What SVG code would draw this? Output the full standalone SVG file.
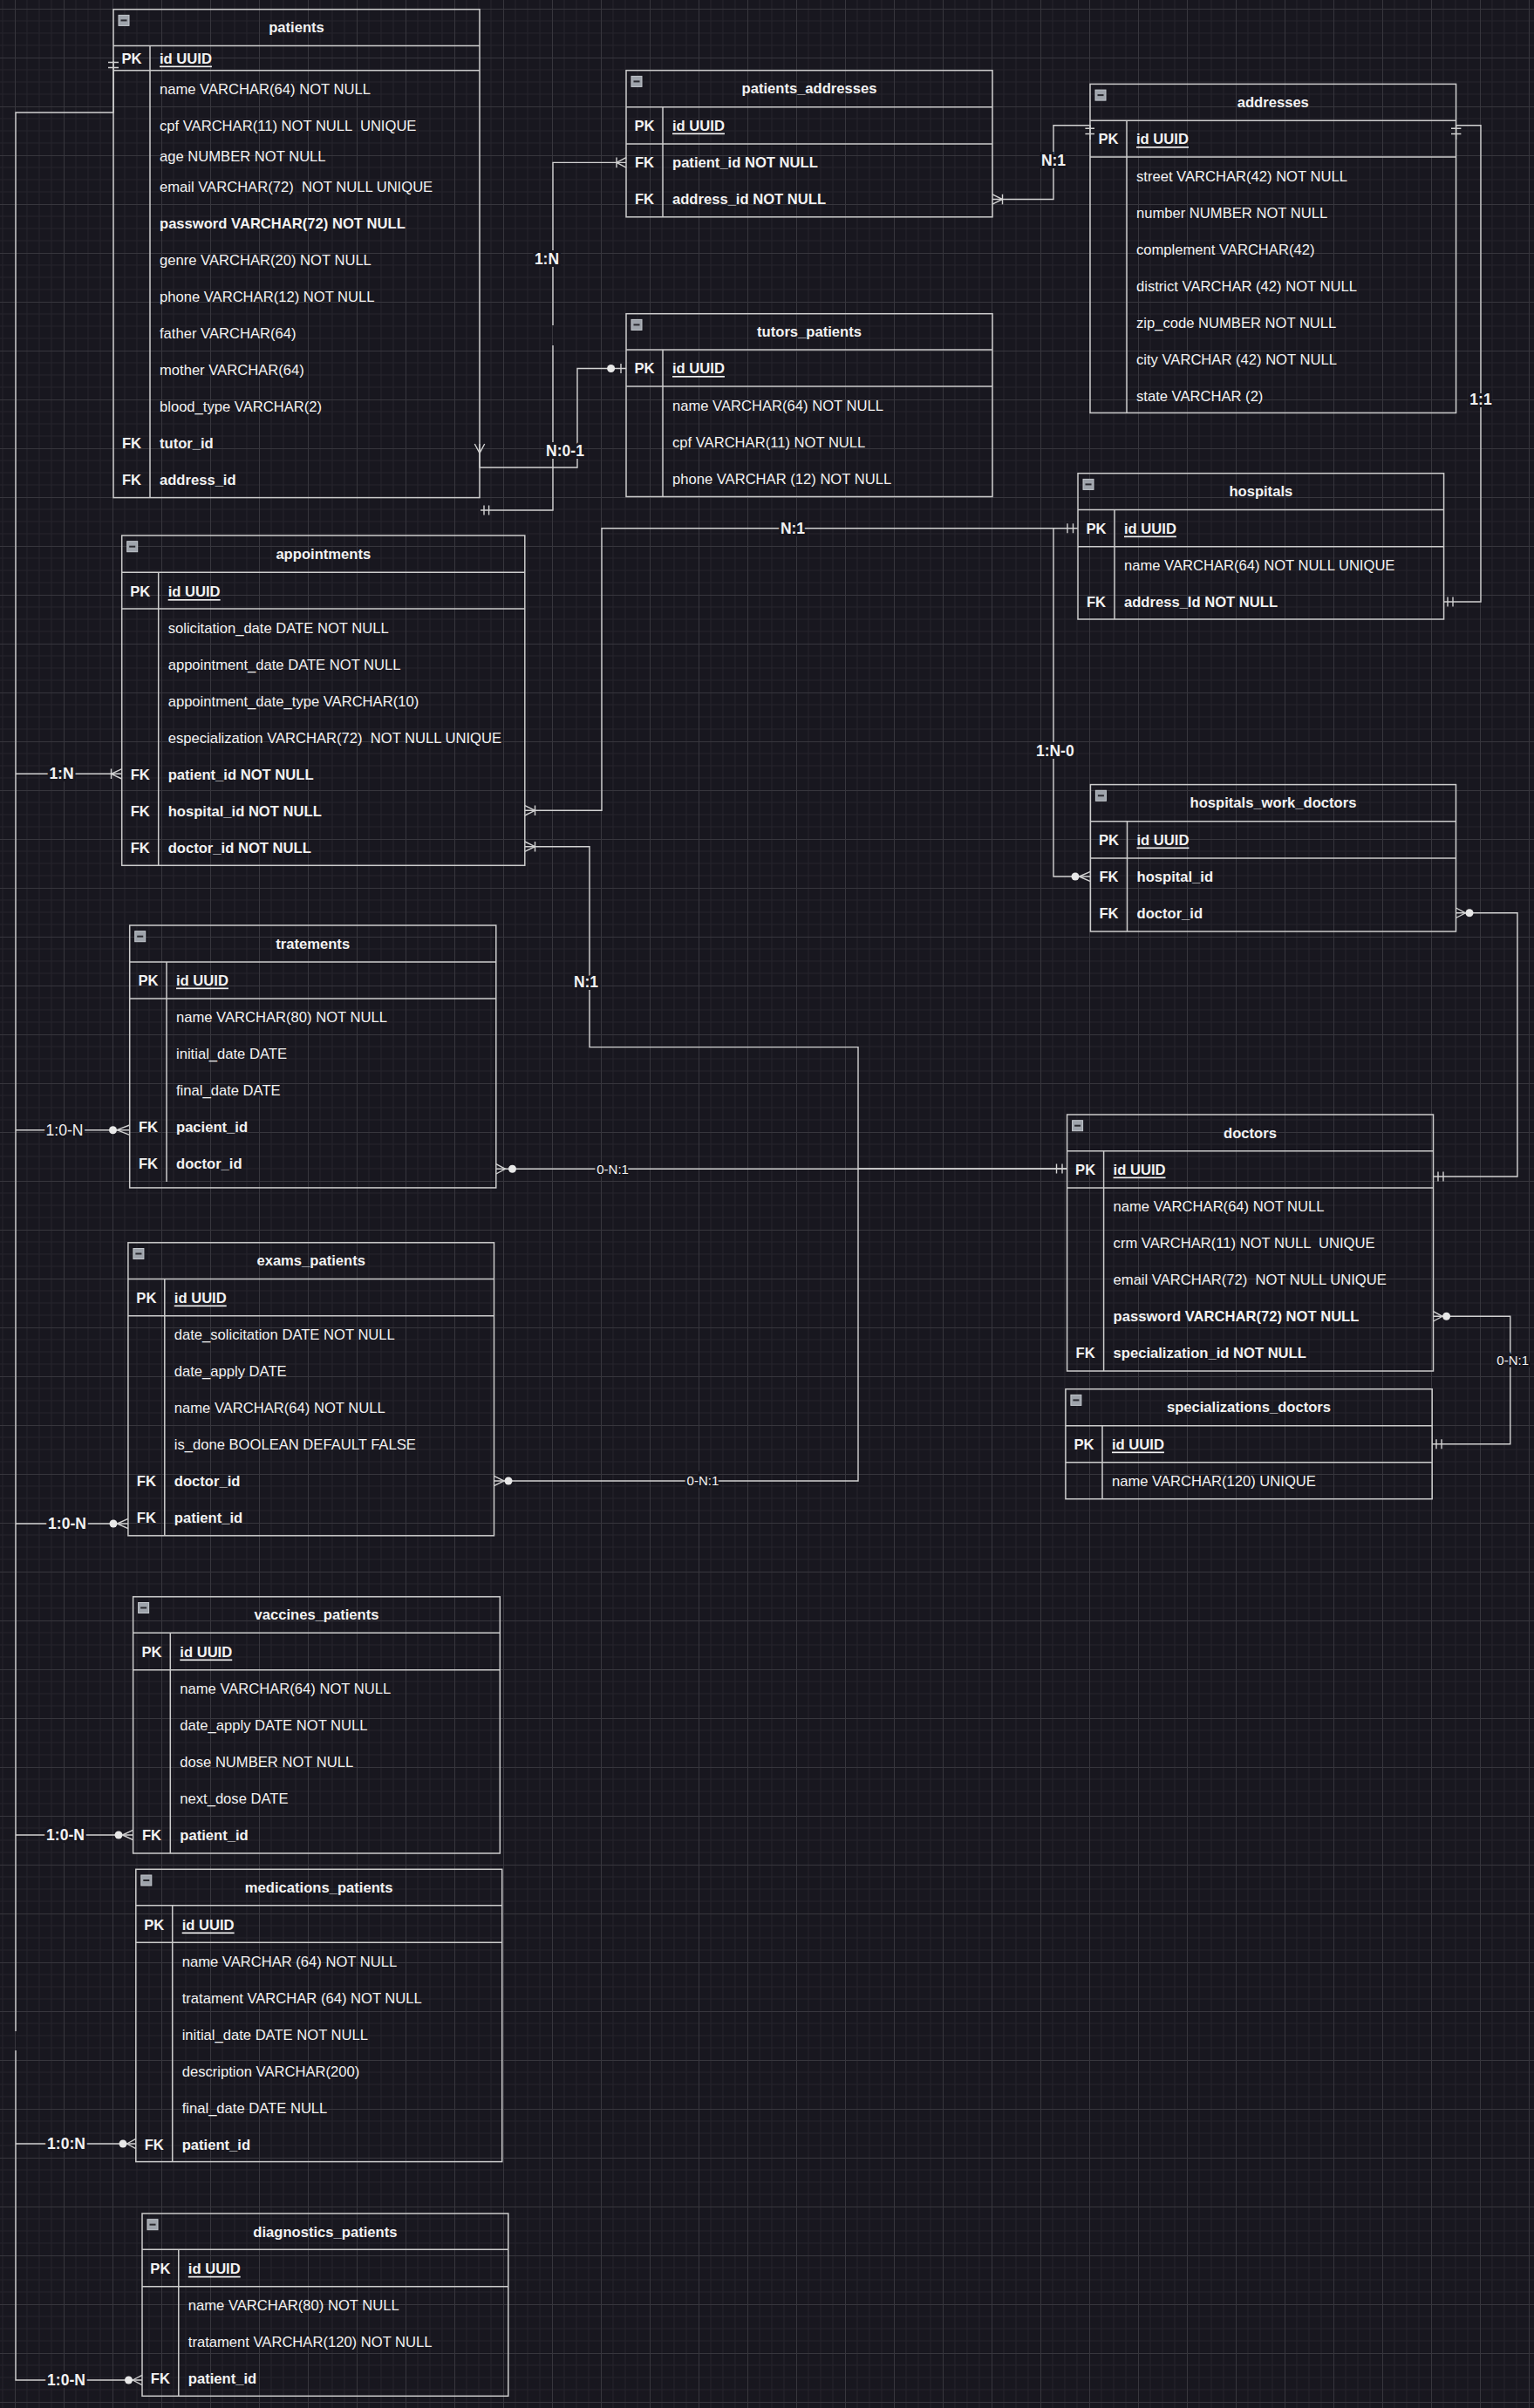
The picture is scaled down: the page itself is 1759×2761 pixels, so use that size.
<svg xmlns="http://www.w3.org/2000/svg" width="1759" height="2761" viewBox="0 0 1759 2761">
<style>
.t{font-family:"Liberation Sans",Arial,sans-serif;font-size:16.6px;fill:#f2f2f2;dominant-baseline:central;white-space:pre}
.b{font-weight:bold}
.u{text-decoration:underline}
.c{text-anchor:middle}
.box{fill:none;stroke:#cccccc;stroke-width:1.5}
.ln{stroke:#cccccc;stroke-width:1.5}
.ico{fill:#9ea3ab;stroke:#c4c8ce;stroke-width:1}
.icm{fill:#2a2a30}
.e{fill:none;stroke:#d2d2d2;stroke-width:1.4}
.dot{fill:#e8e8e8}
.lb{font-family:"Liberation Sans",Arial,sans-serif;font-size:17.5px;font-weight:bold;fill:#f2f2f2;text-anchor:middle;dominant-baseline:central;paint-order:stroke;stroke:#18171f;stroke-width:6px}
.lr{font-weight:normal}
.ls{font-family:"Liberation Sans",Arial,sans-serif;font-size:15px;fill:#f2f2f2;text-anchor:middle;dominant-baseline:central;paint-order:stroke;stroke:#18171f;stroke-width:5px}
</style>
<defs>
<pattern id="grid" x="17" y="10" width="56" height="56" patternUnits="userSpaceOnUse">
<path d="M14,0V56M28,0V56M42,0V56M0,14H56M0,28H56M0,42H56" stroke="#25242c" stroke-width="1" fill="none"/>
<path d="M0.5,0V56M0,0.5H56" stroke="#37363d" stroke-width="1" fill="none"/>
</pattern>
</defs>
<rect width="1759" height="2761" fill="#18171f"/>
<rect width="1759" height="2761" fill="url(#grid)"/>

<g id="connectors">
<!-- patient bus -->
<path class="e" d="M130,70V129H18V2329M18,2351V2729H163"/>
<path class="e" d="M18,887.3H139.7M18,1295.7H148.7M18,1747H146.9M18,2104H152.6M18,2458H155.8"/>
<path class="e" d="M124,71.5H136M124,77.5H136"/>
<path class="e" d="M127.5,881.6V893M127.5,887.3L139.7,881.6M127.5,887.3L139.7,893"/>
<circle class="dot" cx="129.5" cy="1295.7" r="4.5"/>
<path class="e" d="M134,1295.7L148.7,1290M134,1295.7L148.7,1301.4"/>
<circle class="dot" cx="130" cy="1747" r="4.5"/>
<path class="e" d="M134.5,1747L146.9,1741.3M134.5,1747L146.9,1752.7"/>
<circle class="dot" cx="136" cy="2104" r="4.5"/>
<path class="e" d="M140.5,2104L152.6,2098.3M140.5,2104L152.6,2109.7"/>
<circle class="dot" cx="141" cy="2458" r="4.5"/>
<path class="e" d="M145.5,2458L155.8,2452.3M145.5,2458L155.8,2463.7"/>
<circle class="dot" cx="147.5" cy="2729" r="4.5"/>
<path class="e" d="M152,2729L163,2723.3M152,2729L163,2734.7"/>
<text class="lb" x="70.5" y="887.3">1:N</text>
<text class="lb lr" x="74" y="1295.7">1:0-N</text>
<text class="lb" x="77" y="1747">1:0-N</text>
<text class="lb" x="75" y="2104">1:0-N</text>
<text class="lb" x="76" y="2458">1:0:N</text>
<text class="lb" x="76" y="2729">1:0-N</text>

<!-- patients -> patients_addresses -->
<path class="e" d="M551,585H634V396M634,373V186.4H718"/>
<path class="e" d="M555,579.5V590.5M560.6,579.5V590.5"/>
<path class="e" d="M707,180.5V192.3M707,186.4L718,180.7M707,186.4L718,192.1"/>
<text class="lb" x="627" y="297">1:N</text>

<!-- patients.tutor_id -> tutors_patients -->
<path class="e" d="M550,509V536H662V422.5H718"/>
<path class="e" d="M544.3,509L550,519.5L555.7,509"/>
<circle class="dot" cx="700.6" cy="422.5" r="4.5"/>
<path class="e" d="M712,417V428"/>
<text class="lb" x="648" y="516.6">N:0-1</text>

<!-- patients_addresses -> addresses -->
<path class="e" d="M1138,228.5H1208V143.7H1250V160"/>
<path class="e" d="M1138,222.8L1149.5,228.5L1138,234.2M1149.5,222.8V234.2"/>
<path class="e" d="M1244.4,147.3H1255M1244.4,153.5H1255"/>
<text class="lb" x="1208" y="184">N:1</text>

<!-- addresses -> hospitals -->
<path class="e" d="M1669.6,160V143.7H1698V690H1655.6"/>
<path class="e" d="M1664,147.3H1675.4M1664,153.5H1675.4"/>
<path class="e" d="M1660,684.5V695.5M1666,684.5V695.5"/>
<text class="lb" x="1698" y="458">1:1</text>

<!-- appointments.hospital_id -> hospitals -->
<path class="e" d="M601.8,929.3H690V605.7H1236"/>
<path class="e" d="M601.8,923.6L613.5,929.3L601.8,935M613.5,923.6V935"/>
<path class="e" d="M1224,600.2V611.2M1230.5,600.2V611.2"/>
<text class="lb" x="909" y="605.7">N:1</text>

<!-- hospitals -> hospitals_work_doctors -->
<path class="e" d="M1208,605.7V1005H1250.4"/>
<circle class="dot" cx="1233" cy="1005" r="4.5"/>
<path class="e" d="M1237.5,1005L1250.4,999.3M1237.5,1005L1250.4,1010.7"/>
<text class="lb" x="1209.8" y="861">1:N-0</text>

<!-- hospitals_work_doctors.doctor_id -> doctors -->
<path class="e" d="M1669.5,1046.8H1740V1349H1643.5"/>
<path class="e" d="M1669.5,1041L1680.5,1046.8L1669.5,1052.5"/>
<circle class="dot" cx="1685" cy="1046.8" r="4.5"/>
<path class="e" d="M1649,1343.5V1354.5M1655,1343.5V1354.5"/>

<!-- appointments.doctor_id -> doctors -->
<path class="e" d="M601.8,970.7H676V1200.6H984V1340H1223.6"/>
<path class="e" d="M601.8,965L613.5,970.7L601.8,976.4M613.5,965V976.4"/>
<path class="e" d="M1211.5,1334.5V1345.5M1218,1334.5V1345.5"/>
<text class="lb" x="672" y="1125.5">N:1</text>

<!-- tratements.doctor_id -> doctors -->
<path class="e" d="M568.8,1340.3H1223.6"/>
<path class="e" d="M568.8,1334.6L579.5,1340.3L568.8,1346"/>
<circle class="dot" cx="587.5" cy="1340.3" r="4.5"/>
<text class="ls" x="702.6" y="1340">0-N:1</text>

<!-- exams_patients.doctor_id -> doctors -->
<path class="e" d="M566.5,1698H984V1341"/>
<path class="e" d="M566.5,1692.3L578,1698L566.5,1703.7"/>
<circle class="dot" cx="583" cy="1698" r="4.5"/>
<text class="ls" x="805.9" y="1697">0-N:1</text>

<!-- doctors -> specializations_doctors -->
<path class="e" d="M1643.5,1509.3H1731.8V1655.7H1642.2"/>
<path class="e" d="M1643.5,1503.6L1654,1509.3L1643.5,1515"/>
<circle class="dot" cx="1658.6" cy="1509.3" r="4.5"/>
<path class="e" d="M1647,1650.2V1661.2M1653,1650.2V1661.2"/>
<text class="ls" x="1734.7" y="1559.3">0-N:1</text>
</g>

<g id="patients">
<rect class="box" x="130" y="10.7" width="420" height="559.9"/>
<path class="ln" d="M130,52.4H550M130,80.7H550M172,52.4V570.6"/>
<rect class="ico" x="136" y="17.4" width="12" height="12"/><rect class="icm" x="138.5" y="22.4" width="7" height="2"/>
<text class="t b c" x="340" y="31.5">patients</text>
<text class="t b c" x="151" y="67">PK</text>
<text class="t b u" x="183" y="67">id UUID</text>
<text class="t" x="183" y="102">name VARCHAR(64) NOT NULL</text>
<text class="t" x="183" y="144" xml:space="preserve">cpf VARCHAR(11) NOT NULL  UNIQUE</text>
<text class="t" x="183" y="179">age NUMBER NOT NULL</text>
<text class="t" x="183" y="214" xml:space="preserve">email VARCHAR(72)  NOT NULL UNIQUE</text>
<text class="t b" x="183" y="256">password VARCHAR(72) NOT NULL</text>
<text class="t" x="183" y="298">genre VARCHAR(20) NOT NULL</text>
<text class="t" x="183" y="340">phone VARCHAR(12) NOT NULL</text>
<text class="t" x="183" y="382">father VARCHAR(64)</text>
<text class="t" x="183" y="424">mother VARCHAR(64)</text>
<text class="t" x="183" y="466.5">blood_type VARCHAR(2)</text>
<text class="t b c" x="151" y="508">FK</text>
<text class="t b" x="183" y="508">tutor_id</text>
<text class="t b c" x="151" y="550">FK</text>
<text class="t b" x="183" y="550">address_id</text>
</g>

<g id="patients_addresses">
<rect class="box" x="718" y="80.7" width="420" height="168.1"/>
<path class="ln" d="M718,122.8H1138M718,165H1138M760,122.8V248.8"/>
<rect class="ico" x="724" y="87.4" width="12" height="12"/><rect class="icm" x="726.5" y="92.4" width="7" height="2"/>
<text class="t b c" x="928" y="101.7">patients_addresses</text>
<text class="t b c" x="739" y="144">PK</text>
<text class="t b u" x="771" y="144">id UUID</text>
<text class="t b c" x="739" y="186.4">FK</text>
<text class="t b" x="771" y="186.4">patient_id NOT NULL</text>
<text class="t b c" x="739" y="228.5">FK</text>
<text class="t b" x="771" y="228.5">address_id NOT NULL</text>
</g>

<g id="tutors_patients">
<rect class="box" x="718" y="359.7" width="420" height="209.8"/>
<path class="ln" d="M718,401H1138M718,443H1138M760,401V569.5"/>
<rect class="ico" x="724" y="366.4" width="12" height="12"/><rect class="icm" x="726.5" y="371.4" width="7" height="2"/>
<text class="t b c" x="928" y="380.3">tutors_patients</text>
<text class="t b c" x="739" y="422.5">PK</text>
<text class="t b u" x="771" y="422.5">id UUID</text>
<text class="t" x="771" y="465">name VARCHAR(64) NOT NULL</text>
<text class="t" x="771" y="507.5">cpf VARCHAR(11) NOT NULL</text>
<text class="t" x="771" y="549.5">phone VARCHAR (12) NOT NULL</text>
</g>

<g id="addresses">
<rect class="box" x="1250" y="96.4" width="419.6" height="377"/>
<path class="ln" d="M1250,138.2H1669.6M1250,180H1669.6M1292,138.2V473.4"/>
<rect class="ico" x="1256" y="103.1" width="12" height="12"/><rect class="icm" x="1258.5" y="108.1" width="7" height="2"/>
<text class="t b c" x="1459.8" y="117.3">addresses</text>
<text class="t b c" x="1271" y="159.5">PK</text>
<text class="t b u" x="1303" y="159.5">id UUID</text>
<text class="t" x="1303" y="202">street VARCHAR(42) NOT NULL</text>
<text class="t" x="1303" y="244">number NUMBER NOT NULL</text>
<text class="t" x="1303" y="286">complement VARCHAR(42)</text>
<text class="t" x="1303" y="328">district VARCHAR (42) NOT NULL</text>
<text class="t" x="1303" y="370">zip_code NUMBER NOT NULL</text>
<text class="t" x="1303" y="412">city VARCHAR (42) NOT NULL</text>
<text class="t" x="1303" y="454">state VARCHAR (2)</text>
</g>

<g id="hospitals">
<rect class="box" x="1236" y="542.7" width="419.6" height="167.3"/>
<path class="ln" d="M1236,584.5H1655.6M1236,626.7H1655.6M1278,584.5V710"/>
<rect class="ico" x="1242" y="549.4" width="12" height="12"/><rect class="icm" x="1244.5" y="554.4" width="7" height="2"/>
<text class="t b c" x="1445.8" y="563.6">hospitals</text>
<text class="t b c" x="1257" y="606">PK</text>
<text class="t b u" x="1289" y="606">id UUID</text>
<text class="t" x="1289" y="648">name VARCHAR(64) NOT NULL UNIQUE</text>
<text class="t b c" x="1257" y="690">FK</text>
<text class="t b" x="1289" y="690">address_Id NOT NULL</text>
</g>

<g id="appointments">
<rect class="box" x="139.7" y="614" width="462.1" height="378.3"/>
<path class="ln" d="M139.7,656.3H601.8M139.7,698H601.8M181.7,656.3V992.3"/>
<rect class="ico" x="145.7" y="620.7" width="12" height="12"/><rect class="icm" x="148.2" y="625.7" width="7" height="2"/>
<text class="t b c" x="370.8" y="635">appointments</text>
<text class="t b c" x="160.7" y="678.5">PK</text>
<text class="t b u" x="192.7" y="678.5">id UUID</text>
<text class="t" x="192.7" y="720.3">solicitation_date DATE NOT NULL</text>
<text class="t" x="192.7" y="762.3">appointment_date DATE NOT NULL</text>
<text class="t" x="192.7" y="804.3">appointment_date_type VARCHAR(10)</text>
<text class="t" x="192.7" y="846.3" xml:space="preserve">especialization VARCHAR(72)  NOT NULL UNIQUE</text>
<text class="t b c" x="160.7" y="888.3">FK</text>
<text class="t b" x="192.7" y="888.3">patient_id NOT NULL</text>
<text class="t b c" x="160.7" y="930">FK</text>
<text class="t b" x="192.7" y="930">hospital_id NOT NULL</text>
<text class="t b c" x="160.7" y="972">FK</text>
<text class="t b" x="192.7" y="972">doctor_id NOT NULL</text>
</g>

<g id="hospitals_work_doctors">
<rect class="box" x="1250.4" y="899.6" width="419.1" height="168.4"/>
<path class="ln" d="M1250.4,941.8H1669.5M1250.4,984H1669.5M1292.5,941.8V1068"/>
<rect class="ico" x="1256.4" y="906.3" width="12" height="12"/><rect class="icm" x="1258.9" y="911.3" width="7" height="2"/>
<text class="t b c" x="1460" y="920.7">hospitals_work_doctors</text>
<text class="t b c" x="1271.5" y="963">PK</text>
<text class="t b u" x="1303.5" y="963">id UUID</text>
<text class="t b c" x="1271.5" y="1005">FK</text>
<text class="t b" x="1303.5" y="1005">hospital_id</text>
<text class="t b c" x="1271.5" y="1047">FK</text>
<text class="t b" x="1303.5" y="1047">doctor_id</text>
</g>

<g id="tratements">
<rect class="box" x="148.7" y="1061" width="420.1" height="300.9"/>
<path class="ln" d="M148.7,1102.9H568.8M148.7,1145.1H568.8M191,1102.9V1355"/>
<rect class="ico" x="154.7" y="1067.7" width="12" height="12"/><rect class="icm" x="157.2" y="1072.7" width="7" height="2"/>
<text class="t b c" x="358.7" y="1082">tratements</text>
<text class="t b c" x="170" y="1124">PK</text>
<text class="t b u" x="202" y="1124">id UUID</text>
<text class="t" x="202" y="1166">name VARCHAR(80) NOT NULL</text>
<text class="t" x="202" y="1208">initial_date DATE</text>
<text class="t" x="202" y="1250">final_date DATE</text>
<text class="t b c" x="170" y="1292">FK</text>
<text class="t b" x="202" y="1292">pacient_id</text>
<text class="t b c" x="170" y="1334">FK</text>
<text class="t b" x="202" y="1334">doctor_id</text>
</g>

<g id="exams_patients">
<rect class="box" x="146.9" y="1424.8" width="419.6" height="336"/>
<path class="ln" d="M146.9,1466.5H566.5M146.9,1508.8H566.5M188.8,1466.5V1760.8"/>
<rect class="ico" x="152.9" y="1431.5" width="12" height="12"/><rect class="icm" x="155.4" y="1436.5" width="7" height="2"/>
<text class="t b c" x="356.7" y="1445.7">exams_patients</text>
<text class="t b c" x="167.9" y="1488">PK</text>
<text class="t b u" x="199.8" y="1488">id UUID</text>
<text class="t" x="199.8" y="1530">date_solicitation DATE NOT NULL</text>
<text class="t" x="199.8" y="1572">date_apply DATE</text>
<text class="t" x="199.8" y="1614">name VARCHAR(64) NOT NULL</text>
<text class="t" x="199.8" y="1656">is_done BOOLEAN DEFAULT FALSE</text>
<text class="t b c" x="167.9" y="1698">FK</text>
<text class="t b" x="199.8" y="1698">doctor_id</text>
<text class="t b c" x="167.9" y="1740">FK</text>
<text class="t b" x="199.8" y="1740">patient_id</text>
</g>

<g id="doctors">
<rect class="box" x="1223.6" y="1278" width="419.9" height="294"/>
<path class="ln" d="M1223.6,1319.7H1643.5M1223.6,1362H1643.5M1265.6,1319.7V1572"/>
<rect class="ico" x="1229.6" y="1284.7" width="12" height="12"/><rect class="icm" x="1232.1" y="1289.7" width="7" height="2"/>
<text class="t b c" x="1433.5" y="1299">doctors</text>
<text class="t b c" x="1244.6" y="1341">PK</text>
<text class="t b u" x="1276.6" y="1341">id UUID</text>
<text class="t" x="1276.6" y="1383.3">name VARCHAR(64) NOT NULL</text>
<text class="t" x="1276.6" y="1425.3" xml:space="preserve">crm VARCHAR(11) NOT NULL  UNIQUE</text>
<text class="t" x="1276.6" y="1467.3" xml:space="preserve">email VARCHAR(72)  NOT NULL UNIQUE</text>
<text class="t b" x="1276.6" y="1509.3">password VARCHAR(72) NOT NULL</text>
<text class="t b c" x="1244.6" y="1551.3">FK</text>
<text class="t b" x="1276.6" y="1551.3">specialization_id NOT NULL</text>
</g>

<g id="specializations_doctors">
<rect class="box" x="1221.9" y="1592.7" width="420.3" height="126"/>
<path class="ln" d="M1221.9,1634.7H1642.2M1221.9,1676.7H1642.2M1264,1634.7V1718.7"/>
<rect class="ico" x="1227.9" y="1599.4" width="12" height="12"/><rect class="icm" x="1230.4" y="1604.4" width="7" height="2"/>
<text class="t b c" x="1432" y="1613.7">specializations_doctors</text>
<text class="t b c" x="1243" y="1656">PK</text>
<text class="t b u" x="1275" y="1656">id UUID</text>
<text class="t" x="1275" y="1698">name VARCHAR(120) UNIQUE</text>
</g>

<g id="vaccines_patients">
<rect class="box" x="152.6" y="1830.8" width="420.7" height="294.2"/>
<path class="ln" d="M152.6,1872.3H573.3M152.6,1914.7H573.3M195.3,1872.3V2125"/>
<rect class="ico" x="158.6" y="1837.5" width="12" height="12"/><rect class="icm" x="161.1" y="1842.5" width="7" height="2"/>
<text class="t b c" x="363" y="1851.5">vaccines_patients</text>
<text class="t b c" x="174" y="1894">PK</text>
<text class="t b u" x="206.3" y="1894">id UUID</text>
<text class="t" x="206.3" y="1936">name VARCHAR(64) NOT NULL</text>
<text class="t" x="206.3" y="1978">date_apply DATE NOT NULL</text>
<text class="t" x="206.3" y="2020">dose NUMBER NOT NULL</text>
<text class="t" x="206.3" y="2062">next_dose DATE</text>
<text class="t b c" x="174" y="2104">FK</text>
<text class="t b" x="206.3" y="2104">patient_id</text>
</g>

<g id="medications_patients">
<rect class="box" x="155.8" y="2143.3" width="419.9" height="335.3"/>
<path class="ln" d="M155.8,2184.8H575.7M155.8,2227.2H575.7M197.7,2184.8V2478.6"/>
<rect class="ico" x="161.8" y="2150" width="12" height="12"/><rect class="icm" x="164.3" y="2155" width="7" height="2"/>
<text class="t b c" x="365.7" y="2164">medications_patients</text>
<text class="t b c" x="176.7" y="2207">PK</text>
<text class="t b u" x="208.7" y="2207">id UUID</text>
<text class="t" x="208.7" y="2249">name VARCHAR (64) NOT NULL</text>
<text class="t" x="208.7" y="2291">tratament VARCHAR (64) NOT NULL</text>
<text class="t" x="208.7" y="2333">initial_date DATE NOT NULL</text>
<text class="t" x="208.7" y="2375">description VARCHAR(200)</text>
<text class="t" x="208.7" y="2417">final_date DATE NULL</text>
<text class="t b c" x="176.7" y="2459">FK</text>
<text class="t b" x="208.7" y="2459">patient_id</text>
</g>

<g id="diagnostics_patients">
<rect class="box" x="163" y="2538" width="419.8" height="209.3"/>
<path class="ln" d="M163,2579.3H582.8M163,2621.7H582.8M204.8,2579.3V2747.3"/>
<rect class="ico" x="169" y="2544.7" width="12" height="12"/><rect class="icm" x="171.5" y="2549.7" width="7" height="2"/>
<text class="t b c" x="372.9" y="2559">diagnostics_patients</text>
<text class="t b c" x="183.9" y="2601.3">PK</text>
<text class="t b u" x="215.8" y="2601.3">id UUID</text>
<text class="t" x="215.8" y="2643.3">name VARCHAR(80) NOT NULL</text>
<text class="t" x="215.8" y="2685.3">tratament VARCHAR(120) NOT NULL</text>
<text class="t b c" x="183.9" y="2727.3">FK</text>
<text class="t b" x="215.8" y="2727.3">patient_id</text>
</g>
</svg>
